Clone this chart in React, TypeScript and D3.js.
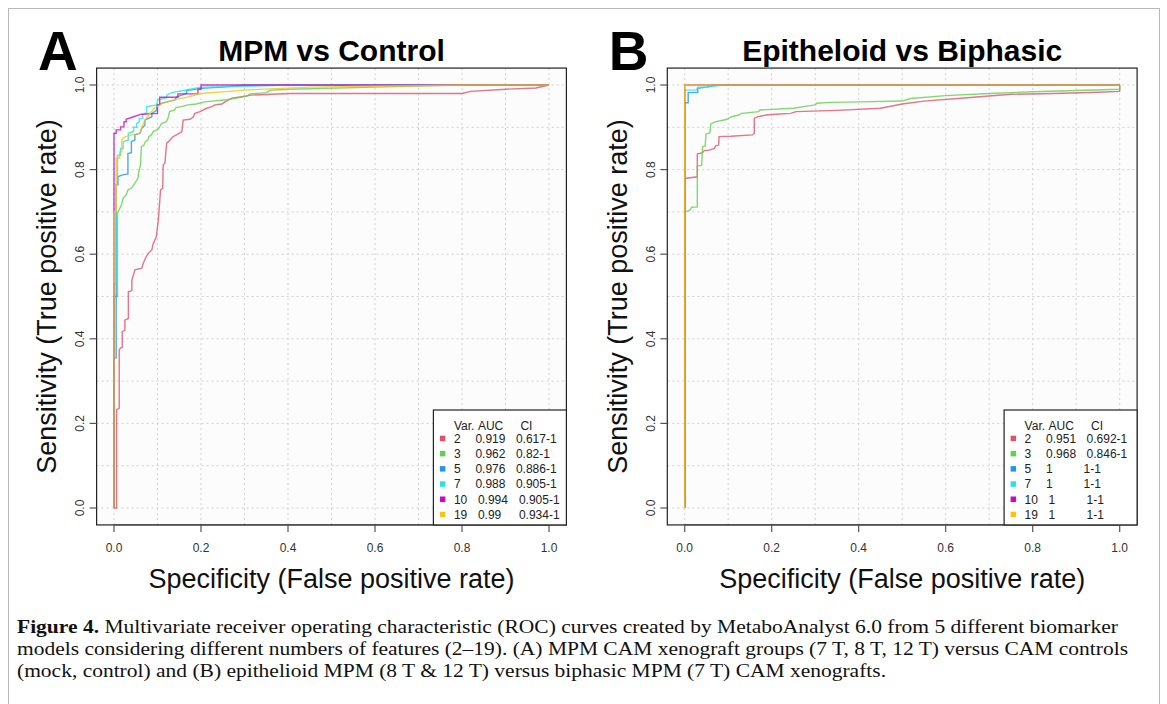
import React from 'react';
import * as d3 from 'd3';

type Pt = [number, number];

const seriesNames = ['2', '3', '5', '7', '10', '19'];
const seriesColors = ['#DF536B', '#61D04F', '#2297E6', '#28E2E5', '#CD0BBC', '#F5C710'];
const aucA = ['0.919', '0.962', '0.976', '0.988', '0.994', '0.99'];
const ciA = ['0.617-1', '0.82-1', '0.886-1', '0.905-1', '0.905-1', '0.934-1'];
const aucB = ['0.951', '0.968', '1', '1', '1', '1'];
const ciB = ['0.692-1', '0.846-1', '1-1', '1-1', '1-1', '1-1'];
const tickValues = [0, 0.2, 0.4, 0.6, 0.8, 1.0];
const gridValues = [0, 0.1, 0.2, 0.3, 0.4, 0.5, 0.6, 0.7, 0.8, 0.9, 1.0];

// Panel A: MPM vs Control (fpr, tpr)
const rocA2: Pt[] = [[0,0],[0.006,0],[0.006,0.232],[0.012,0.236],[0.012,0.374],[0.015,0.378],[0.019,0.38],[0.019,0.417],[0.025,0.42],[0.025,0.444],[0.033,0.448],[0.033,0.511],[0.041,0.514],[0.041,0.539],[0.046,0.555],[0.048,0.563],[0.064,0.567],[0.067,0.578],[0.074,0.594],[0.079,0.602],[0.087,0.61],[0.09,0.625],[0.097,0.64],[0.1,0.665],[0.102,0.681],[0.107,0.752],[0.112,0.756],[0.113,0.811],[0.117,0.815],[0.121,0.862],[0.129,0.87],[0.136,0.878],[0.144,0.882],[0.156,0.89],[0.159,0.917],[0.175,0.919],[0.182,0.924],[0.186,0.933],[0.198,0.937],[0.213,0.945],[0.225,0.949],[0.232,0.953],[0.248,0.955],[0.255,0.96],[0.271,0.969],[0.305,0.974],[0.313,0.976],[0.405,0.98],[0.8,0.98],[0.82,0.985],[0.9,0.99],[0.97,0.993],[1,1]];
const rocA3: Pt[] = [[0,0],[0,0.5],[0.008,0.5],[0.008,0.697],[0.017,0.716],[0.021,0.732],[0.028,0.74],[0.032,0.752],[0.041,0.757],[0.048,0.768],[0.055,0.779],[0.057,0.795],[0.061,0.811],[0.063,0.854],[0.069,0.858],[0.072,0.866],[0.078,0.87],[0.08,0.878],[0.086,0.882],[0.09,0.89],[0.101,0.895],[0.105,0.901],[0.109,0.909],[0.12,0.913],[0.124,0.921],[0.128,0.937],[0.139,0.941],[0.143,0.947],[0.155,0.949],[0.17,0.953],[0.189,0.955],[0.208,0.96],[0.259,0.965],[0.282,0.969],[0.305,0.974],[0.313,0.979],[0.351,0.982],[0.359,0.988],[0.405,0.99],[0.6,0.995],[0.8,1],[1,1]];
const rocA5: Pt[] = [[0,0],[0,0.355],[0.005,0.355],[0.005,0.764],[0.009,0.764],[0.009,0.783],[0.018,0.787],[0.032,0.79],[0.032,0.838],[0.04,0.84],[0.04,0.866],[0.048,0.87],[0.048,0.882],[0.06,0.886],[0.064,0.898],[0.071,0.905],[0.071,0.917],[0.087,0.925],[0.087,0.933],[0.098,0.94],[0.098,0.95],[0.11,0.957],[0.14,0.965],[0.144,0.972],[0.167,0.98],[0.167,0.987],[0.2,0.992],[0.25,0.995],[0.3,1],[1,1]];
const rocA7: Pt[] = [[0,0],[0,0.53],[0.005,0.53],[0.005,0.764],[0.008,0.764],[0.008,0.834],[0.015,0.834],[0.015,0.85],[0.021,0.85],[0.021,0.866],[0.033,0.87],[0.033,0.886],[0.045,0.89],[0.045,0.9],[0.052,0.9],[0.052,0.909],[0.058,0.913],[0.058,0.921],[0.066,0.921],[0.066,0.929],[0.075,0.935],[0.075,0.949],[0.098,0.953],[0.1,0.965],[0.121,0.97],[0.121,0.976],[0.133,0.982],[0.16,0.987],[0.2,0.995],[0.3,0.997],[0.4,1],[1,1]];
const rocA10: Pt[] = [[0,0],[0,0.886],[0.005,0.886],[0.005,0.894],[0.015,0.894],[0.015,0.901],[0.023,0.901],[0.023,0.913],[0.028,0.913],[0.028,0.919],[0.045,0.925],[0.063,0.931],[0.1,0.933],[0.1,0.953],[0.105,0.953],[0.105,0.971],[0.147,0.971],[0.147,0.979],[0.193,0.979],[0.193,0.99],[0.2,0.99],[0.2,1],[1,1]];
const rocA19: Pt[] = [[0,0],[0,0.7],[0.005,0.7],[0.005,0.827],[0.013,0.827],[0.013,0.842],[0.018,0.842],[0.018,0.871],[0.023,0.876],[0.04,0.882],[0.059,0.886],[0.063,0.898],[0.067,0.909],[0.077,0.925],[0.086,0.937],[0.093,0.945],[0.113,0.957],[0.139,0.965],[0.17,0.972],[0.2,0.98],[0.3,0.988],[0.45,0.995],[0.6,0.997],[0.8,1],[1,1]];

// Panel B: Epitheloid vs Biphasic
const rocB2: Pt[] = [[0,0],[0,0.779],[0.029,0.783],[0.029,0.837],[0.041,0.84],[0.045,0.845],[0.056,0.846],[0.068,0.85],[0.071,0.856],[0.078,0.858],[0.079,0.878],[0.106,0.879],[0.156,0.882],[0.16,0.886],[0.16,0.921],[0.168,0.925],[0.187,0.929],[0.21,0.931],[0.244,0.933],[0.256,0.937],[0.35,0.94],[0.45,0.945],[0.5,0.955],[0.55,0.962],[0.65,0.97],[0.75,0.978],[0.85,0.98],[0.95,0.983],[1,0.985],[1,1]];
const rocB3: Pt[] = [[0,0],[0,0.7],[0.012,0.704],[0.016,0.711],[0.029,0.712],[0.029,0.809],[0.039,0.81],[0.041,0.854],[0.047,0.856],[0.049,0.884],[0.058,0.887],[0.06,0.908],[0.07,0.913],[0.085,0.916],[0.097,0.919],[0.108,0.925],[0.124,0.929],[0.131,0.933],[0.17,0.937],[0.173,0.941],[0.25,0.945],[0.273,0.949],[0.3,0.953],[0.304,0.957],[0.335,0.959],[0.404,0.96],[0.5,0.962],[0.52,0.968],[0.6,0.975],[0.7,0.98],[0.8,0.984],[0.9,0.987],[1,0.99],[1,1]];
const rocB5: Pt[] = [[0,0],[0,0.958],[0.008,0.958],[0.008,0.982],[0.03,0.982],[0.03,0.992],[0.05,0.995],[0.07,1],[1,1]];
const rocB7: Pt[] = [[0,0],[0,0.988],[0.027,0.988],[0.03,0.995],[0.05,0.995],[0.088,1],[1,1]];
const rocB10: Pt[] = [[0,0],[0,1],[1,1]];
const rocB19: Pt[] = [[0,0],[0,1],[1,1]];

const curvesA = [rocA2, rocA3, rocA5, rocA7, rocA10, rocA19];
const curvesB = [rocB2, rocB3, rocB5, rocB7, rocB10, rocB19];

const captionLines = [
  'Multivariate receiver operating characteristic (ROC) curves created by MetaboAnalyst 6.0 from 5 different biomarker',
  'models considering different numbers of features (2–19). (A) MPM CAM xenograft groups (7 T, 8 T, 12 T) versus CAM controls',
  '(mock, control) and (B) epithelioid MPM (8 T & 12 T) versus biphasic MPM (7 T) CAM xenografts.',
];

const SANS = '"Liberation Sans", Arial, Helvetica, sans-serif';
const SERIF = '"Liberation Serif", "Times New Roman", serif';

interface PanelProps {
  x0: number;
  letter: string;
  title: string;
  curves: Pt[][];
  auc: string[];
  ci: string[];
}

function Panel({ x0, letter, title, curves, auc, ci }: PanelProps) {
  const x = d3.scaleLinear().domain([0, 1]).range([x0, x0 + 435]);
  const y = d3.scaleLinear().domain([0, 1]).range([508, 85]);
  const bx0 = x(-0.04), bx1 = x(1.04), by0 = y(1.04), by1 = y(-0.04);
  const cx = (bx0 + bx1) / 2;
  const cy = (by0 + by1) / 2;
  const line = d3.line<Pt>().x(d => x(d[0])).y(d => y(d[1]));
  const legW = 133;
  const legL = bx1 - legW;
  const legT = 410;
  return (
    <g>
      <rect x={bx0} y={by0} width={bx1 - bx0} height={by1 - by0} fill="#fcfcfc" />
      {gridValues.map(g => (
        <g key={'g' + g}>
          <line x1={x(g)} x2={x(g)} y1={by0} y2={by1} stroke="#d0d0d0" strokeWidth={1} strokeDasharray="2,3" />
          <line x1={bx0} x2={bx1} y1={y(g)} y2={y(g)} stroke="#d0d0d0" strokeWidth={1} strokeDasharray="2,3" />
        </g>
      ))}
      {curves.map((c, i) => (
        <path key={'c' + i} d={line(c) || ''} fill="none" stroke={seriesColors[i]} strokeWidth={1.4} strokeOpacity={0.8} />
      ))}
      <rect x={bx0} y={by0} width={bx1 - bx0} height={by1 - by0} fill="none" stroke="#222" strokeWidth={1.2} />
      <line x1={x(0)} x2={x(1)} y1={by1} y2={by1} stroke="#444" />
      {tickValues.map(t => (
        <g key={'xt' + t}>
          <line x1={x(t)} x2={x(t)} y1={by1} y2={by1 + 7} stroke="#555" strokeWidth={1.2} />
          <text x={x(t)} y={552} textAnchor="middle" fontSize={12} fill="#333" fontFamily={SANS}>{t.toFixed(1)}</text>
        </g>
      ))}
      {tickValues.map(t => (
        <g key={'yt' + t}>
          <line x1={bx0} x2={bx0 - 7} y1={y(t)} y2={y(t)} stroke="#555" strokeWidth={1.2} />
          <text transform={`translate(${bx0 - 12.5},${y(t)}) rotate(-90)`} textAnchor="middle" fontSize={12} fill="#333" fontFamily={SANS}>{t.toFixed(1)}</text>
        </g>
      ))}
      <text x={cx} y={61} textAnchor="middle" fontSize={30} fontWeight="bold" fontFamily={SANS} fill="#000">{title}</text>
      <text x={bx0 - 58.5} y={70} fontSize={55} fontWeight="bold" fontFamily={SANS} fill="#000">{letter}</text>
      <text x={cx} y={588} textAnchor="middle" fontSize={27} fontFamily={SANS} fill="#111">Specificity (False positive rate)</text>
      <text transform={`translate(${bx0 - 40.5},${cy}) rotate(-90)`} textAnchor="middle" fontSize={27} fontFamily={SANS} fill="#111">Sensitivity (True positive rate)</text>
      <rect x={legL} y={legT} width={legW} height={by1 - legT} fill="#fff" stroke="#222" strokeWidth={1.2} />
      <text x={legL + 20.5} y={429.5} fontSize={12} fontFamily={SANS} fill="#222">Var.</text>
      <text x={legL + 44.5} y={429.5} fontSize={12} fontFamily={SANS} fill="#222">AUC</text>
      <text x={legL + 87} y={429.5} fontSize={12} fontFamily={SANS} fill="#222">CI</text>
      {seriesNames.map((n, i) => {
        const by = 442.7 + 15.2 * i;
        return (
          <g key={'l' + n}>
            <rect x={legL + 6.5} y={by - 7} width={5.5} height={5.5} fill={seriesColors[i]} />
            <text x={legL + 20.5} y={by} fontSize={12} fontFamily={SANS} fill="#222">{n}</text>
            <text x={legL + (n.length > 1 ? 44.5 : 42)} y={by} fontSize={12} fontFamily={SANS} fill="#222">{auc[i]}</text>
            <text x={legL + (n.length > 1 ? 85.5 : 82.5) - (ci[i].length < 4 ? 3 : 0)} y={by} fontSize={12} fontFamily={SANS} fill="#222">{ci[i]}</text>
          </g>
        );
      })}
    </g>
  );
}

export default function App() {
  return (
    <svg width={1167} height={704} style={{ position: 'absolute', left: 0, top: 0, background: '#fff' }}>
      <rect x={8.5} y={8.5} width={1151} height={740} fill="none" stroke="#b8b8b8" strokeWidth={1} />
      <Panel x0={114} letter="A" title="MPM vs Control" curves={curvesA} auc={aucA} ci={ciA} />
      <Panel x0={684.7} letter="B" title="Epitheloid vs Biphasic" curves={curvesB} auc={aucB} ci={ciB} />
      <text x={17} y={633} fontSize={19} fontFamily={SERIF} fill="#111" textLength={1101} lengthAdjust="spacingAndGlyphs">
        <tspan fontWeight="bold">Figure 4.</tspan> {captionLines[0]}
      </text>
      <text x={17} y={655} fontSize={19} fontFamily={SERIF} fill="#111" textLength={1111} lengthAdjust="spacingAndGlyphs">{captionLines[1]}</text>
      <text x={17} y={677} fontSize={19} fontFamily={SERIF} fill="#111" textLength={869} lengthAdjust="spacingAndGlyphs">{captionLines[2]}</text>
    </svg>
  );
}
